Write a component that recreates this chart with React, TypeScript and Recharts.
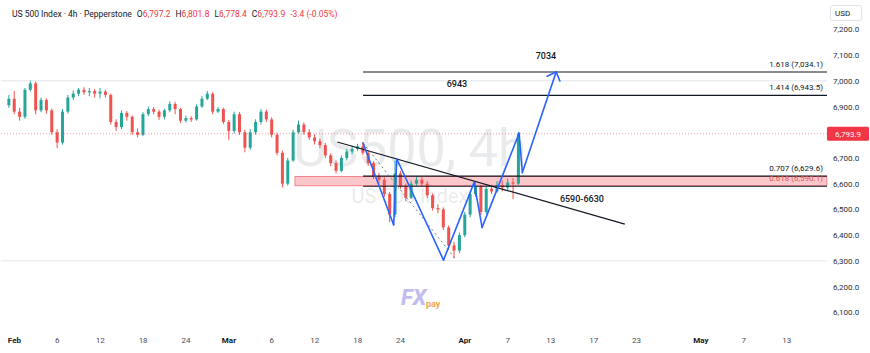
import React from 'react';
import { ComposedChart, Bar, XAxis, YAxis, ReferenceLine, ReferenceArea, ReferenceDot } from 'recharts';

// ---- candle data (half-day bars, index 0 = first bar of Feb) ----
const firstBar = -1;
const opens = [6905, 6930, 6880, 6860, 6965, 6990, 6885, 6925, 6885, 6800, 6760, 6880, 6935, 6950, 6965, 6955, 6960, 6950, 6958, 6945, 6840, 6820, 6875, 6860, 6800, 6790, 6870, 6890, 6880, 6860, 6885, 6910, 6890, 6845, 6855, 6850, 6900, 6930, 6950, 6880, 6890, 6840, 6805, 6870, 6800, 6740, 6800, 6840, 6880, 6850, 6790, 6720, 6600, 6690, 6800, 6830, 6800, 6780, 6765, 6750, 6710, 6680, 6650, 6700, 6725, 6735, 6745, 6720, 6680, 6630, 6615, 6560, 6480, 6640, 6590, 6545, 6600, 6615, 6600, 6555, 6505, 6500, 6430, 6360, 6340, 6400, 6480, 6560, 6590, 6490, 6580, 6570, 6595, 6585, 6605, 6600];
const highs = [6945, 6960, 6895, 6972, 7002, 6998, 6935, 6932, 6892, 6812, 6890, 6945, 6962, 6972, 6975, 6972, 6968, 6972, 6965, 6950, 6850, 6885, 6882, 6865, 6815, 6878, 6900, 6898, 6888, 6892, 6920, 6918, 6895, 6865, 6862, 6908, 6940, 6960, 6955, 6898, 6895, 6848, 6880, 6878, 6810, 6812, 6850, 6890, 6888, 6858, 6798, 6728, 6700, 6810, 6845, 6838, 6812, 6792, 6775, 6758, 6718, 6690, 6710, 6735, 6748, 6755, 6762, 6728, 6688, 6642, 6625, 6568, 6690, 6650, 6600, 6612, 6628, 6625, 6610, 6562, 6520, 6508, 6438, 6375, 6410, 6490, 6570, 6605, 6595, 6590, 6595, 6610, 6612, 6620, 6622, 6801.8];
const lows = [6895, 6870, 6845, 6852, 6958, 6870, 6878, 6872, 6790, 6738, 6752, 6872, 6925, 6940, 6945, 6940, 6935, 6932, 6935, 6830, 6805, 6812, 6845, 6790, 6780, 6785, 6862, 6870, 6848, 6850, 6878, 6870, 6835, 6838, 6840, 6845, 6895, 6925, 6870, 6875, 6832, 6770, 6795, 6790, 6722, 6732, 6790, 6830, 6840, 6780, 6710, 6585, 6592, 6685, 6795, 6790, 6770, 6752, 6738, 6700, 6668, 6640, 6645, 6690, 6715, 6728, 6712, 6670, 6618, 6600, 6548, 6450, 6470, 6580, 6532, 6540, 6592, 6590, 6545, 6495, 6485, 6420, 6345, 6310, 6330, 6392, 6470, 6550, 6478, 6482, 6560, 6565, 6570, 6575, 6540, 6595];
const closes = [6930, 6880, 6860, 6965, 6990, 6885, 6925, 6885, 6800, 6760, 6880, 6935, 6950, 6965, 6955, 6960, 6950, 6958, 6945, 6840, 6820, 6875, 6860, 6800, 6790, 6870, 6890, 6880, 6860, 6885, 6910, 6890, 6845, 6855, 6850, 6900, 6930, 6950, 6880, 6890, 6840, 6805, 6870, 6800, 6740, 6800, 6840, 6880, 6850, 6790, 6720, 6600, 6690, 6800, 6830, 6800, 6780, 6765, 6750, 6710, 6680, 6650, 6700, 6725, 6735, 6745, 6720, 6680, 6630, 6615, 6560, 6480, 6640, 6590, 6545, 6600, 6615, 6600, 6555, 6505, 6500, 6430, 6360, 6340, 6400, 6480, 6560, 6590, 6490, 6580, 6570, 6595, 6585, 6605, 6600, 6793.9];

// ---- axis ----
const slotStart = -2;
const slotEnd = 151;
const xTickBars = [0, 8, 16, 24, 32, 40, 48, 56, 64, 72, 84, 92, 100, 108, 116, 128, 136, 144];
const xTickLabels = ['Feb', '6', '12', '18', '24', 'Mar', '6', '12', '18', '24', 'Apr', '7', '13', '17', '23', 'May', '7', '13'];
const monthLabels = ['Feb', 'Mar', 'Apr', 'May'];
const yDomain = [6039, 7314];
const yTicks = [6100, 6200, 6300, 6400, 6500, 6600, 6700, 6900, 7000, 7100, 7200];
const lastPrice = 6793.9;

// ---- header ----
const title = 'US 500 Index · 4h · Pepperstone';
const ohlcLetters = ['O', 'H', 'L', 'C'];
const ohlcValues = ['6,797.2', '6,801.8', '6,778.4', '6,793.9'];
const changeText = '-3.4 (-0.05%)';

// ---- drawings ----
const fibRatios = ['1.618', '1.414', '0.707', '0.618'];
const fibPrices = [7034.1, 6943.5, 6629.6, 6590.1];
const fibStartBar = 65;
const zoneStartBar = 52.3;
const zonePrices = [6592, 6628];
const guidePrices = [7000, 6300];
const waveBars = [65, 70.7, 71.3, 80.0, 85.7, 87.2, 94.1, 94.7, 101.0];
const wavePrices = [6758, 6440, 6696, 6303, 6604, 6430, 6796, 6643, 7034];
const arrowArmBars = [99.3, 101.7];
const arrowArmPrices = [7018, 6999];
const trendBars = [60.2, 113.8];
const trendPrices = [6762, 6443];
const fibGuideBars = [65, 82.1];
const fibGuidePrices = [6758, 6311];
const noteTexts = ['7034', '6943', '6590-6630'];
const noteBars = [99.1, 82.5, 105.8];
const notePrices = [7096, 6987, 6540];

const UP = '#26a69a';
const DOWN = '#ef5350';
const FONT = 'Roboto, "Noto Sans", sans-serif';
const AXIS_TOP = 328;

const rows: any[] = [];
for (let b = slotStart; b <= slotEnd; b++) {
  const i = b - firstBar;
  if (i >= 0 && i < closes.length) {
    rows.push({ b, o: opens[i], h: highs[i], l: lows[i], c: closes[i], range: [lows[i], highs[i]] });
  } else {
    rows.push({ b });
  }
}

const Candle = (props: any) => {
  const { x, y, width, height, payload } = props;
  if (!payload || payload.c == null) return null;
  const { o, h, l, c } = payload;
  const top = Math.min(y, y + height);
  const H = Math.abs(height);
  const k = h === l ? 0 : H / (h - l);
  const yO = top + (h - o) * k;
  const yC = top + (h - c) * k;
  const color = c >= o ? UP : DOWN;
  const cx = x + width / 2;
  return (
    <g>
      <line x1={cx} x2={cx} y1={top} y2={top + H} stroke={color} strokeWidth={1} />
      <rect x={x} y={Math.min(yO, yC)} width={width} height={Math.max(1, Math.abs(yO - yC))} fill={color} />
    </g>
  );
};

const XTick = (props: any) => {
  const { x, payload } = props;
  const i = xTickBars.indexOf(payload.value);
  if (i < 0) return null;
  const label = xTickLabels[i];
  const isMonth = monthLabels.includes(label);
  return (
    <text x={x} y={AXIS_TOP + 15} textAnchor="middle" fontSize={8} fontFamily={FONT}
      fill={isMonth ? '#131722' : '#4a4e59'} fontWeight={isMonth ? 700 : 400}>{label}</text>
  );
};

const fmt = (v: number) => v.toLocaleString('en-US', { minimumFractionDigits: 1, maximumFractionDigits: 1 });

const YTick = (props: any) => {
  const { x, y, payload } = props;
  return (
    <text x={x} y={y} dy={3} textAnchor="start" fontSize={8} fontFamily={FONT} fill="#2a2e39">{fmt(payload.value)}</text>
  );
};

const PriceTag = (props: any) => {
  const vb = props.viewBox;
  if (!vb) return null;
  const x = vb.x + vb.width;
  const y = vb.y;
  return (
    <g>
      <rect x={x} y={y - 7} width={42} height={14} fill="#f23645" rx={1.5} />
      <text x={x + 21} y={y + 3} textAnchor="middle" fontSize={8} fontFamily={FONT} fill="#ffffff">{fmt(lastPrice)}</text>
    </g>
  );
};

const makeFibLabel = (text: string, color: string) => (props: any) => {
  const vb = props.viewBox;
  if (!vb) return null;
  return (
    <text x={vb.x + vb.width - 4} y={vb.y - 5} textAnchor="end" fontSize={8} fontFamily={FONT} fill={color}>{text}</text>
  );
};

const makeNote = (text: string) => (p: any) => (
  <text x={p.cx} y={p.cy} dy={3} textAnchor="middle" fontSize={9} fontWeight={500} fontFamily={FONT} fill="#131722">{text}</text>
);

export default function App() {
  const waveSegs = waveBars.slice(1).map((b, i) => [
    { x: waveBars[i], y: wavePrices[i] },
    { x: b, y: wavePrices[i + 1] },
  ]);
  const tipB = waveBars[waveBars.length - 1];
  const tipP = wavePrices[wavePrices.length - 1];
  return (
    <div style={{ position: 'absolute', left: 0, top: 0, width: 870, height: 353, background: '#ffffff', overflow: 'hidden' }}>
      <svg width={870} height={353} style={{ position: 'absolute', left: 0, top: 0 }}>
        <text x={410} y={166} textAnchor="middle" fontSize={52} fontFamily={FONT} fill="#787b86" fillOpacity={0.16}>US500, 4h</text>
        <text x={410} y={203} textAnchor="middle" fontSize={20} fontFamily={FONT} fill="#787b86" fillOpacity={0.16}>US 500 Index</text>
        <text x={401} y={305} fontSize={22} fontWeight={800} fontStyle="italic" fontFamily={FONT} fill="#c4bcef">FX</text>
        <text x={426} y={307} fontSize={9} fontWeight={700} fontFamily={FONT} fill="#f5a54a">pay</text>
      </svg>
      <div style={{ position: 'absolute', left: 0, top: 0 }}>
        <ComposedChart width={870} height={353} data={rows} margin={{ top: 0, right: 0, bottom: 0, left: 1 }}>
          <XAxis xAxisId="c" dataKey="b" type="category" hide />
          <XAxis xAxisId="n" dataKey="b" type="number" domain={[slotStart - 0.5, slotEnd + 0.5]} allowDataOverflow
            ticks={xTickBars} interval={0} tick={<XTick />} tickLine={false} axisLine={false} tickSize={0} tickMargin={0} height={25} />
          <YAxis orientation="right" domain={yDomain} allowDataOverflow ticks={yTicks} interval={0} width={43}
            tick={<YTick />} tickLine={false} axisLine={false} tickSize={0} tickMargin={6} />

          {guidePrices.map((p) => (
            <ReferenceLine key={'g' + p} xAxisId="n" y={p} stroke="#e3e5ea" strokeWidth={1} />
          ))}

          <ReferenceArea xAxisId="n" x1={zoneStartBar} x2={slotEnd + 0.5} y1={zonePrices[0]} y2={zonePrices[1]}
            fill="#f23645" fillOpacity={0.28} stroke="#f23645" strokeOpacity={0.55} strokeWidth={1} />

          <ReferenceLine xAxisId="n" y={lastPrice} stroke="#f23645" strokeOpacity={0.5} strokeDasharray="1 2"
            label={{ content: PriceTag } as any} />

          <Bar xAxisId="c" dataKey="range" barSize={3} shape={<Candle />} isAnimationActive={false} />

          {fibPrices.map((p, i) => (
            <ReferenceLine key={'f' + i} xAxisId="n" ifOverflow="visible"
              segment={[{ x: fibStartBar, y: p }, { x: slotEnd + 0.5, y: p }]}
              stroke="#131722" strokeWidth={1.2}
              label={{ content: makeFibLabel(`${fibRatios[i]} (${fmt(p)})`, i === 3 ? '#d9534f' : '#131722') } as any} />
          ))}

          <ReferenceLine xAxisId="n" ifOverflow="visible"
            segment={[{ x: trendBars[0], y: trendPrices[0] }, { x: trendBars[1], y: trendPrices[1] }]}
            stroke="#131722" strokeWidth={1.2} />
          <ReferenceLine xAxisId="n" ifOverflow="visible"
            segment={[{ x: fibGuideBars[0], y: fibGuidePrices[0] }, { x: fibGuideBars[1], y: fibGuidePrices[1] }]}
            stroke="#787b86" strokeWidth={1} strokeDasharray="2 3" />

          {waveSegs.map((s, i) => (
            <ReferenceLine key={'w' + i} xAxisId="n" ifOverflow="visible" segment={s}
              stroke="#2962ff" strokeWidth={1.6} strokeLinecap="round" />
          ))}
          {arrowArmBars.map((b, i) => (
            <ReferenceLine key={'a' + i} xAxisId="n" ifOverflow="visible"
              segment={[{ x: tipB, y: tipP }, { x: b, y: arrowArmPrices[i] }]}
              stroke="#2962ff" strokeWidth={1.6} strokeLinecap="round" />
          ))}

          {noteTexts.map((t, i) => (
            <ReferenceDot key={'n' + i} xAxisId="n" x={noteBars[i]} y={notePrices[i]} r={0} ifOverflow="visible"
              shape={makeNote(t)} />
          ))}
        </ComposedChart>
      </div>
      <svg width={870} height={353} style={{ position: 'absolute', left: 0, top: 0, pointerEvents: 'none' }}>
        <text x={12} y={17} fontSize={8.5} fontFamily={FONT} fill="#131722">
          <tspan>{title}</tspan>
          {ohlcLetters.map((l, i) => (
            <React.Fragment key={l}>
              <tspan dx={i === 0 ? 5 : 5}>{l}</tspan>
              <tspan fill="#f23645">{ohlcValues[i]}</tspan>
            </React.Fragment>
          ))}
          <tspan dx={5} fill="#f23645">{changeText}</tspan>
        </text>
        <rect x={830.5} y={5.5} width={31} height={15} fill="#ffffff" stroke="#e0e3eb" rx={2} />
        <text x={835} y={16} fontSize={8} fontFamily={FONT} fill="#131722">USD</text>
      </svg>
    </div>
  );
}
